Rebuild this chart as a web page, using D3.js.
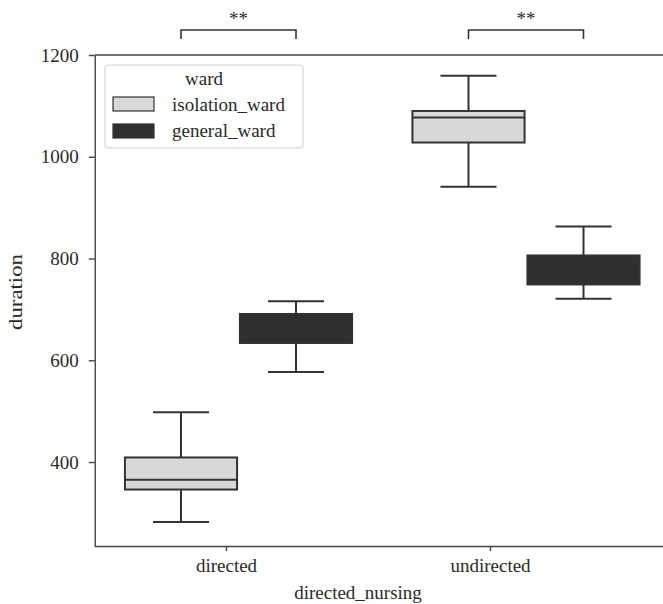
<!DOCTYPE html>
<html lang="en">
<head>
  <meta charset="UTF-8">
  <title>Duration by directed nursing and ward</title>
  <style>
    body { margin: 0; background: #fff; }
    svg text { font-family: "Liberation Serif", "Times New Roman", serif; font-size: 19px; fill: #2a2a2a; }
    .axis path, .axis line { stroke: #444; stroke-width: 1.4; }
  </style>
  <script src="https://d3js.org/d3.v7.min.js"></script>
</head>
<body>
<svg id="chart" width="663" height="604"></svg>
<script>
  // Data: [whisker low, q1, median, q3, whisker high]
  const categories = ["directed", "undirected"];
  const wards = ["isolation_ward", "general_ward"];
  const isolationWard = [[282, 346, 365, 409, 498], [941, 1028, 1077, 1090, 1159]];
  const generalWard = [[577, 634, 655, 691, 716], [721, 749, 796, 806, 863]];
  const yTicks = [400, 600, 800, 1000, 1200];
  const significance = ["**", "**"];

  const fills = {isolation_ward: "#d8d8d8", general_ward: "#2f2f2f"};
  const edge = "#333";

  const svg = d3.select("#chart");

  // Scales
  const y = d3.scaleLinear().domain([235, 1200]).range([546, 55]);
  const xBox = d3.scaleLinear().domain([-0.5, 1.5]).range([94.75, 669.75]);
  const xTick = d3.scaleLinear().domain([-0.5, 1.5]).range([94, 622]);
  const hueOffset = d3.scaleOrdinal().domain(wards).range([-0.2, 0.2]);
  const boxWidth = 0.39;

  // Axes
  svg.append("g")
    .attr("class", "axis")
    .attr("transform", `translate(${xBox.range()[0]},0)`)
    .call(d3.axisLeft(y).tickValues(yTicks).tickFormat(d3.format("d"))
      .tickSize(6).tickPadding(10).tickSizeOuter(0))
    .selectAll("text").attr("fill", "#2a2a2a");

  const xAxis = svg.append("g")
    .attr("class", "axis")
    .attr("transform", `translate(0,${y.range()[0]})`)
    .call(d3.axisBottom(xTick).tickValues([0, 1]).tickFormat(i => categories[i]).tickSize(5).tickPadding(8));
  xAxis.select(".domain").attr("d", `M${xBox.range()[0]},0.5H${xBox.range()[1]}`);
  xAxis.selectAll("text").attr("fill", "#2a2a2a");

  // top spine
  svg.append("line")
    .attr("x1", xBox.range()[0]).attr("x2", xBox.range()[1])
    .attr("y1", y.range()[1]).attr("y2", y.range()[1])
    .attr("stroke", "#444").attr("stroke-width", 1.4);

  // Axis titles
  svg.append("text")
    .attr("x", d3.mean(xTick.range()))
    .attr("y", 599)
    .attr("text-anchor", "middle")
    .text("directed_nursing");

  svg.append("text")
    .attr("transform", `translate(22,292) rotate(-90)`)
    .attr("text-anchor", "middle")
    .attr("textLength", 76).attr("lengthAdjust", "spacingAndGlyphs")
    .text("duration");

  // Boxes
  const boxes = [];
  categories.forEach((c, i) => {
    boxes.push({cat: i, ward: "isolation_ward", s: isolationWard[i]});
    boxes.push({cat: i, ward: "general_ward", s: generalWard[i]});
  });

  const pxPerUnit = xBox(1) - xBox(0);
  const g = svg.append("g").selectAll("g").data(boxes).join("g");

  g.each(function(d) {
    const sel = d3.select(this);
    const cx = xBox(d.cat + hueOffset(d.ward));
    const w = boxWidth * pxPerUnit;
    const [lo, q1, med, q3, hi] = d.s;
    // whiskers and caps
    sel.append("line").attr("x1", cx).attr("x2", cx).attr("y1", y(q3)).attr("y2", y(hi));
    sel.append("line").attr("x1", cx).attr("x2", cx).attr("y1", y(q1)).attr("y2", y(lo));
    sel.append("line").attr("x1", cx - w / 4).attr("x2", cx + w / 4).attr("y1", y(hi)).attr("y2", y(hi));
    sel.append("line").attr("x1", cx - w / 4).attr("x2", cx + w / 4).attr("y1", y(lo)).attr("y2", y(lo));
    sel.append("rect")
      .attr("x", cx - w / 2).attr("width", w)
      .attr("y", y(q3)).attr("height", y(q1) - y(q3))
      .attr("fill", fills[d.ward]);
    sel.append("line").attr("x1", cx - w / 2).attr("x2", cx + w / 2).attr("y1", y(med)).attr("y2", y(med));
    sel.selectAll("line, rect").attr("stroke", edge).attr("stroke-width", 2);
  });

  // Significance brackets
  categories.forEach((c, i) => {
    const x1 = xBox(i + hueOffset(wards[0]));
    const x2 = xBox(i + hueOffset(wards[1]));
    svg.append("path")
      .attr("d", `M${x1},39V30H${x2}V39`)
      .attr("fill", "none").attr("stroke", edge).attr("stroke-width", 1.6);
    svg.append("text")
      .attr("x", (x1 + x2) / 2).attr("y", 25)
      .attr("text-anchor", "middle")
      .text(significance[i]);
  });

  // Legend
  const legend = svg.append("g").attr("transform", "translate(105,65)");
  legend.append("rect")
    .attr("width", 198).attr("height", 83).attr("rx", 3)
    .attr("fill", "#fff").attr("stroke", "#d0d0d0");
  legend.append("text")
    .attr("x", 99).attr("y", 20).attr("text-anchor", "middle").text("ward");
  wards.forEach((wd, i) => {
    legend.append("rect")
      .attr("x", 8).attr("y", 32 + i * 27).attr("width", 41).attr("height", 14)
      .attr("fill", fills[wd]).attr("stroke", edge).attr("stroke-width", 1.2);
    legend.append("text")
      .attr("x", 67).attr("y", 46 + i * 26).text(wd);
  });
</script>
</body>
</html>
